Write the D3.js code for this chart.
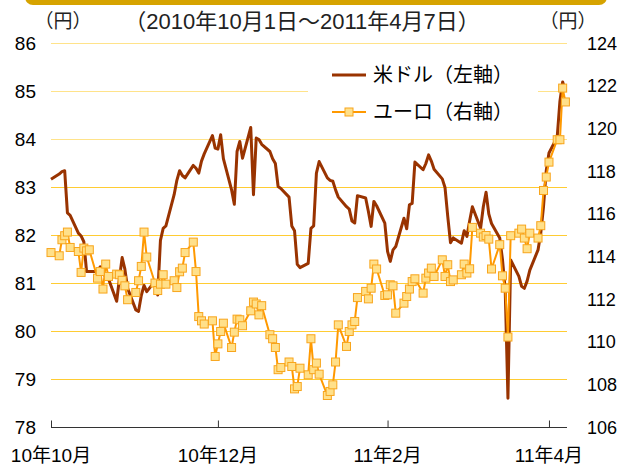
<!DOCTYPE html>
<html><head><meta charset="utf-8">
<script src="https://cdn.jsdelivr.net/npm/d3@7"></script>
<style>body{margin:0;background:#fff} svg{display:block}</style>
</head><body><svg id="c" width="618" height="465"></svg>
<script>
const dates = [
"2010-10-01","2010-10-04","2010-10-05","2010-10-06","2010-10-07","2010-10-08","2010-10-11","2010-10-12","2010-10-13","2010-10-14","2010-10-15","2010-10-18","2010-10-19","2010-10-20","2010-10-21","2010-10-22","2010-10-25","2010-10-26","2010-10-27","2010-10-28","2010-10-29",
"2010-11-01","2010-11-02","2010-11-03","2010-11-04","2010-11-05","2010-11-08","2010-11-09","2010-11-10","2010-11-11","2010-11-12","2010-11-15","2010-11-16","2010-11-17","2010-11-18","2010-11-19","2010-11-22","2010-11-23","2010-11-24","2010-11-25","2010-11-26","2010-11-29","2010-11-30",
"2010-12-01","2010-12-02","2010-12-03","2010-12-06","2010-12-07","2010-12-08","2010-12-09","2010-12-10","2010-12-13","2010-12-14","2010-12-15","2010-12-16","2010-12-17","2010-12-20","2010-12-21","2010-12-22","2010-12-23","2010-12-24","2010-12-27","2010-12-28","2010-12-29","2010-12-30","2010-12-31",
"2011-01-03","2011-01-04","2011-01-05","2011-01-06","2011-01-07","2011-01-10","2011-01-11","2011-01-12","2011-01-13","2011-01-14","2011-01-17","2011-01-18","2011-01-19","2011-01-20","2011-01-21","2011-01-24","2011-01-25","2011-01-26","2011-01-27","2011-01-28","2011-01-31",
"2011-02-01","2011-02-02","2011-02-03","2011-02-04","2011-02-07","2011-02-08","2011-02-09","2011-02-10","2011-02-11","2011-02-14","2011-02-15","2011-02-16","2011-02-17","2011-02-18","2011-02-21","2011-02-22","2011-02-23","2011-02-24","2011-02-25","2011-02-28",
"2011-03-01","2011-03-02","2011-03-03","2011-03-04","2011-03-07","2011-03-08","2011-03-09","2011-03-10","2011-03-11","2011-03-14","2011-03-15","2011-03-16","2011-03-17","2011-03-18","2011-03-21","2011-03-22","2011-03-23","2011-03-24","2011-03-25","2011-03-28","2011-03-29","2011-03-30","2011-03-31",
"2011-04-01","2011-04-04","2011-04-05","2011-04-06","2011-04-07"];

const usd = [
83.17,83.28,83.33,83.35,82.47,82.42,82.05,81.99,81.87,81.25,81.25,81.25,81.35,81.2,81.15,81.1,80.63,81.1,81.54,81.3,80.9,
80.45,80.42,80.75,80.96,80.83,81.05,80.76,81.9,82.15,82.2,82.85,83.15,83.35,83.25,83.2,83.46,83.4,83.3,83.55,83.7,84.08,83.82,
83.8,84.1,83.6,82.95,82.65,83.75,83.96,83.61,84.25,82.85,84.03,84.0,83.9,83.75,83.6,83.5,83.02,82.98,82.8,82.2,82.1,81.4,81.33,
81.42,82.15,82.2,83.3,83.54,83.2,83.15,83.13,82.95,82.8,82.6,82.55,82.3,82.26,82.83,82.78,82.5,82.19,82.71,82.62,82.26,
81.67,81.46,81.7,81.77,82.36,82.14,82.64,82.67,83.53,83.37,83.5,83.68,83.55,83.38,83.18,83.0,82.4,81.85,81.95,81.84,
82.1,81.98,82.3,82.6,82.15,82.6,82.9,82.45,82.25,81.95,81.5,80.87,78.61,81.49,81.15,80.94,80.9,81.05,81.28,81.7,82.05,82.6,83.35,
83.72,84.05,84.8,85.2,85.0];

const eur = [
114.2,114.05,114.8,114.99,115.16,114.44,114.25,113.27,114.41,114.28,114.33,113.0,113.31,112.49,113.66,113.08,113.19,113.16,112.9,112.64,111.99,
112.33,112.88,113.55,115.16,113.99,112.77,112.42,112.72,113.16,112.72,112.88,112.56,113.3,113.47,114.2,114.69,113.31,111.2,111.0,110.85,111.0,109.33,
109.92,110.5,110.89,109.75,110.47,111.08,111.05,110.77,111.47,111.88,111.79,111.28,111.71,110.35,110.16,109.75,108.71,108.81,109.07,108.86,107.81,107.92,108.78,
108.47,110.16,108.71,109.02,108.5,107.5,107.69,108.0,109.07,110.81,109.8,110.5,110.81,110.97,112.09,112.38,112.03,112.53,113.66,113.43,112.19,
112.22,112.69,112.64,111.36,111.83,112.14,112.49,112.84,112.97,112.3,113.0,113.24,113.47,113.08,113.86,113.08,113.63,112.84,112.92,113.16,
113.66,113.24,113.44,115.38,115.11,114.93,115.0,114.83,113.43,114.57,113.11,112.53,110.24,114.99,115.11,115.3,114.88,114.38,115.11,114.88,115.46,117.11,117.74,
118.44,119.49,119.49,121.91,121.26];

const leftTicks = [78,79,80,81,82,83,84,85,86];
const rightTicks = [106,108,110,112,114,116,118,120,122,124];
const xTickDates = ["2010-10-01","2010-12-01","2011-02-01","2011-04-01"];
const xTickLabels = ["10年10月","10年12月","11年2月","11年4月"];
const xDomain = ["2010-10-01","2011-04-07"];
const titleText = "（2010年10月1日～2011年4月7日）";
const unitText = "（円）";
const seriesNames = ["米ドル（左軸）","ユーロ（右軸）"];

const FONT = "'Liberation Sans','Noto Sans CJK JP',Arial,sans-serif";
const parse = d3.timeParse("%Y-%m-%d");
const svg = d3.select("#c");

const x = d3.scaleTime().domain(xDomain.map(parse)).range([51, 565.4]);
const yL = d3.scaleLinear().domain([78, 86]).range([427.5, 43.5]);
const yR = d3.scaleLinear().domain([106, 124]).range([427.5, 43.5]);

// top golden frame edge
svg.append("rect").attr("x", 25).attr("y", -20).attr("width", 582).attr("height", 25)
  .attr("rx", 8).attr("fill", "#d6a300");

// gridlines
svg.append("g").selectAll("line").data(leftTicks.filter(d => d > 78)).join("line")
  .attr("x1", 51).attr("x2", 567)
  .attr("y1", d => yL(d)).attr("y2", d => yL(d))
  .attr("stroke", d => d >= 84 ? "#ffe38a" : "#ffcc33").attr("stroke-width", 1);

// x axis
const xAxis = d3.axisBottom(x).tickValues(xTickDates.map(parse)).tickSize(-7).tickFormat("");
const gx = svg.append("g").attr("transform", "translate(0,427.5)").call(xAxis);
gx.select(".domain").attr("d", "M51,0H567").attr("stroke", "#333");
gx.selectAll(".tick line").attr("stroke", "#333");
svg.append("g").selectAll("text").data(xTickDates).join("text")
  .attr("x", d => x(parse(d))).attr("y", 462)
  .attr("text-anchor", "middle").attr("font-family", FONT).attr("font-size", 19).attr("fill", "#000")
  .text((d, i) => xTickLabels[i]);

// left axis labels
const gl = svg.append("g").attr("transform", "translate(36,0)")
  .call(d3.axisLeft(yL).tickValues(leftTicks).tickSize(0).tickPadding(0).tickFormat(d3.format("d")));
gl.select(".domain").remove();
gl.selectAll("text").attr("font-family", FONT).attr("font-size", 19).attr("fill", "#000");

// right axis labels
const gr = svg.append("g").attr("transform", "translate(587,0)")
  .call(d3.axisRight(yR).tickValues(rightTicks).tickSize(0).tickPadding(0).tickFormat(d3.format("d")));
gr.select(".domain").remove();
gr.selectAll("text").attr("font-family", FONT).attr("font-size", 18).attr("fill", "#000");

// title and units
svg.append("text").attr("x", 302).attr("y", 29).attr("text-anchor", "middle")
  .attr("font-family", FONT).attr("font-size", 22).attr("fill", "#222").text(titleText);
svg.append("text").attr("x", 63).attr("y", 28).attr("text-anchor", "middle")
  .attr("font-family", FONT).attr("font-size", 19).attr("fill", "#222").text(unitText);
svg.append("text").attr("x", 568).attr("y", 28).attr("text-anchor", "middle")
  .attr("font-family", FONT).attr("font-size", 19).attr("fill", "#222").text(unitText);

const pts = dates.map((d, i) => ({ t: parse(d), u: usd[i], e: eur[i] }));

// USD line
svg.append("path").datum(pts)
  .attr("d", d3.line().x(d => x(d.t)).y(d => yL(d.u)))
  .attr("fill", "none").attr("stroke", "#993300").attr("stroke-width", 3).attr("stroke-linejoin", "round");

// EUR line + markers
svg.append("path").datum(pts)
  .attr("d", d3.line().x(d => x(d.t)).y(d => yR(d.e)))
  .attr("fill", "none").attr("stroke", "#ff9900").attr("stroke-width", 2).attr("stroke-linejoin", "round");
const ms = 8;
svg.append("g").selectAll("rect").data(pts).join("rect")
  .attr("x", d => x(d.t) - ms / 2).attr("y", d => yR(d.e) - ms / 2)
  .attr("width", ms).attr("height", ms)
  .attr("fill", "#ffe08a").attr("stroke", "#f8a51c").attr("stroke-width", 1);

// legend
svg.append("rect").attr("x", 308).attr("y", 56).attr("width", 230).attr("height", 72).attr("fill", "#fff");
const lg = svg.append("g");
lg.append("line").attr("x1", 332).attr("x2", 366).attr("y1", 75).attr("y2", 75)
  .attr("stroke", "#993300").attr("stroke-width", 3);
lg.append("line").attr("x1", 332).attr("x2", 366).attr("y1", 112).attr("y2", 112)
  .attr("stroke", "#ff9900").attr("stroke-width", 2);
lg.append("rect").attr("x", 345).attr("y", 108).attr("width", ms).attr("height", ms)
  .attr("fill", "#ffe08a").attr("stroke", "#f8a51c");
lg.selectAll("text").data(seriesNames).join("text")
  .attr("x", 373).attr("y", (d, i) => 82 + i * 37)
  .attr("font-family", FONT).attr("font-size", 20).attr("fill", "#000").text(d => d);
</script></body></html>
